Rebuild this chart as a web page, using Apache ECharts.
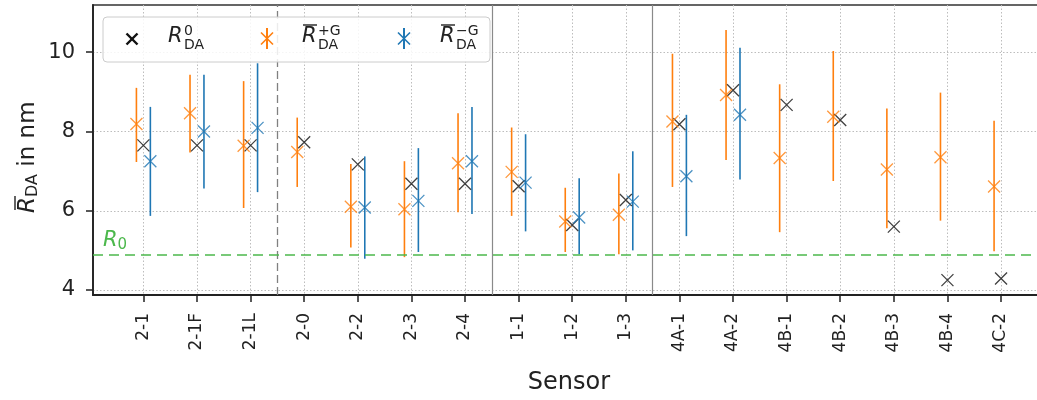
<!DOCTYPE html>
<html>
<head>
<meta charset="utf-8">
<script src="https://cdn.jsdelivr.net/npm/echarts@6/dist/echarts.min.js"></script>
<style>
  html, body { margin: 0; padding: 0; background: #fff; overflow: hidden; width: 1037px; height: 400px; }
  /* the plot frame runs past the right edge of the window */
  #chart { width: 1070px; height: 400px; }
</style>
</head>
<body>
<div id="chart"></div>
<script>
// Sensors along the x axis
const categories = ['2-1', '2-1F', '2-1L', '2-0', '2-2', '2-3', '2-4', '1-1', '1-2', '1-3',
                    '4A-1', '4A-2', '4B-1', '4B-2', '4B-3', '4B-4', '4C-2'];

// R_DA^0 per sensor (nm)
const r0Values = [7.65, 7.65, 7.65, 7.73, 7.17, 6.68, 6.68, 6.62, 5.64, 6.27,
                  8.18, 9.04, 8.67, 8.29, 5.60, 4.25, 4.29];

// mean R_DA with +G: mean, lower and upper end of the error bar
const plusMean = [8.19, 8.46, 7.64, 7.48, 6.10, 6.04, 7.20, 6.98, 5.73, 5.90,
                  8.25, 8.92, 7.33, 8.37, 7.04, 7.35, 6.61];
const plusLow  = [7.23, 7.47, 6.07, 6.60, 5.07, 4.83, 5.96, 5.87, 4.96, 4.90,
                  6.60, 7.28, 5.46, 6.75, 5.56, 5.75, 4.98];
const plusHigh = [9.10, 9.43, 9.27, 8.35, 7.18, 7.25, 8.46, 8.10, 6.58, 6.94,
                  9.96, 10.56, 9.19, 10.03, 8.58, 8.98, 8.27];

// mean R_DA with -G (not measured for every sensor)
const minusMean = [7.25, 8.00, 8.09, null, 6.08, 6.25, 7.25, 6.71, 5.83, 6.23,
                   6.87, 8.42, null, null, null, null, null];
const minusLow  = [5.87, 6.56, 6.47, null, 4.79, 4.96, 5.92, 5.48, 4.90, 5.00,
                   5.36, 6.79, null, null, null, null, null];
const minusHigh = [8.62, 9.43, 9.72, null, 7.37, 7.58, 8.62, 7.93, 6.82, 7.50,
                   8.42, 10.11, null, null, null, null, null];

// reference radius R_0 (nm)
const rZero = 4.89;

// group boundaries between sensor families
const dashedBoundaries = [2.5];
const solidBoundaries = [6.5, 9.5];

// y tick values
const yTicks = [4, 6, 8, 10];

const FONT = 'DejaVu Sans';
const ORANGE = '#ff7f0e';
const BLUE = '#1f77b4';
const GREEN = '#4cb84c';
const SHIFT = 0.13; // horizontal offset of the +G / -G points
const X_PATH = 'path://M0,0L10,10M10,0L0,10';

const tickIdx = categories.map((c, i) => i);

function points(xs, ys, dx) {
  const out = [];
  xs.forEach((x, i) => { if (ys[i] != null) out.push([i + dx, ys[i]]); });
  return out;
}
function bars(lo, hi, dx) {
  const out = [];
  lo.forEach((l, i) => { if (l != null) out.push([i + dx, l, hi[i]]); });
  return out;
}
function errorSeries(data, color) {
  return {
    type: 'custom',
    silent: true,
    data: data,
    encode: { x: 0, y: [1, 2] },
    renderItem: function (params, api) {
      const a = api.coord([api.value(0), api.value(1)]);
      const b = api.coord([api.value(0), api.value(2)]);
      return {
        type: 'line',
        shape: { x1: a[0], y1: a[1], x2: b[0], y2: b[1] },
        style: { stroke: color, lineWidth: 1.6 }
      };
    }
  };
}
function markerSeries(data, color, width) {
  return {
    type: 'scatter',
    silent: true,
    data: data,
    symbol: X_PATH,
    symbolSize: 12,
    itemStyle: { color: 'transparent', borderColor: color, borderWidth: width }
  };
}

const markLines = [];
dashedBoundaries.forEach(v => markLines.push({ xAxis: v, lineStyle: { color: '#808080', type: [8, 4], width: 1.3 } }));
solidBoundaries.forEach(v => markLines.push({ xAxis: v, lineStyle: { color: '#8a8a8a', type: 'solid', width: 1.2 } }));
markLines.push({ yAxis: rZero, lineStyle: { color: GREEN, type: [10, 6], width: 1.6 } });

const blackSeries = markerSeries(points(categories, r0Values, 0), '#111', 1.3);
blackSeries.markLine = {
  silent: true,
  symbol: 'none',
  label: { show: false },
  animation: false,
  data: markLines
};

// legend drawn as graphics (math labels with over-bars and stacked indices)
function xMark(cx, cy, s, color, w) {
  return [
    { type: 'line', shape: { x1: cx - s, y1: cy - s, x2: cx + s, y2: cy + s }, style: { stroke: color, lineWidth: w } },
    { type: 'line', shape: { x1: cx - s, y1: cy + s, x2: cx + s, y2: cy - s }, style: { stroke: color, lineWidth: w } }
  ];
}
function txt(x, y, s, size, italic, color) {
  return {
    type: 'text', x: x, y: y,
    style: { text: s, fontFamily: FONT, fontSize: size, fontStyle: italic ? 'italic' : 'normal',
             fill: color || '#222', align: 'left', verticalAlign: 'middle' }
  };
}
function legendEntry(mx, tx, color, sup, bar) {
  const els = [];
  if (bar) {
    els.push({ type: 'line', shape: { x1: mx, y1: 28, x2: mx, y2: 49 }, style: { stroke: color, lineWidth: 2 } });
    els.push(...xMark(mx, 38.5, 6, color, 1.6));
    els.push({ type: 'line', shape: { x1: tx + 1, y1: 25, x2: tx + 15, y2: 25 }, style: { stroke: '#222', lineWidth: 1.4 } });
  } else {
    els.push(...xMark(mx, 39, 5.5, color, 2.4));
  }
  els.push(txt(tx, 37, 'R', 21, true));
  els.push(txt(tx + 16, 31, sup, 14, false));
  els.push(txt(tx + 16, 45, 'DA', 14, false));
  return els;
}

const graphics = [
  { type: 'rect', shape: { x: 103, y: 17, width: 387, height: 45, r: 4 },
    style: { fill: 'rgba(255,255,255,0.85)', stroke: '#cccccc', lineWidth: 1 }, z: 100 },
  ...legendEntry(132, 168, '#111', '0', false).map(e => Object.assign(e, { z: 101 })),
  ...legendEntry(267, 302, ORANGE, '+G', true).map(e => Object.assign(e, { z: 101 })),
  ...legendEntry(404, 440, BLUE, '\u2212G', true).map(e => Object.assign(e, { z: 101 })),
  // y axis title, rotated
  {
    type: 'group', x: 28, y: 213, rotation: Math.PI / 2,
    children: [
      { type: 'line', shape: { x1: 3, y1: -13, x2: 17, y2: -13 }, style: { stroke: '#222', lineWidth: 1.4 } },
      {
        type: 'text', x: 0, y: 0,
        style: {
          text: '{r|R}{s|DA}{n| in nm}', align: 'left', verticalAlign: 'middle', fill: '#222',
          rich: {
            r: { fontFamily: FONT, fontSize: 23, fontStyle: 'italic', fill: '#222' },
            s: { fontFamily: FONT, fontSize: 16, fill: '#222', padding: [10, 0, 0, 0] },
            n: { fontFamily: FONT, fontSize: 23, fill: '#222' }
          }
        }
      }
    ]
  },
  // R_0 label beside the reference line
  {
    type: 'text', x: 103, y: 241,
    style: {
      text: '{r|R}{s|0}', align: 'left', verticalAlign: 'middle',
      rich: {
        r: { fontFamily: FONT, fontSize: 21, fontStyle: 'italic', fill: GREEN },
        s: { fontFamily: FONT, fontSize: 15, fill: GREEN, padding: [9, 0, 0, 0] }
      }
    }
  }
];

const chart = echarts.init(document.getElementById('chart'), null, { renderer: 'canvas', width: 1070, height: 400 });
chart.setOption({
  animation: false,
  backgroundColor: '#fff',
  grid: { left: 93, top: 5, width: 952, height: 292, show: true, borderColor: '#333', borderWidth: 1.5, containLabel: false },
  xAxis: {
    type: 'value', min: -0.94, max: 16.82,
    name: 'Sensor', nameLocation: 'middle', nameGap: 76,
    nameTextStyle: { fontFamily: FONT, fontSize: 24, color: '#222' },
    axisLine: { show: true, onZero: false, lineStyle: { color: '#222', width: 1.8 } },
    axisTick: { show: true, length: 7, customValues: tickIdx, lineStyle: { color: '#222', width: 1.5 } },
    axisLabel: { customValues: tickIdx, rotate: 90, margin: 18, fontFamily: FONT, fontSize: 17, color: '#222',
                 formatter: v => categories[Math.round(v)] },
    splitLine: { show: true, lineStyle: { color: '#bdbdbd', type: [1.5, 2], width: 1 } }
  },
  yAxis: {
    type: 'value', min: 3.875, max: 11.19,
    axisLine: { show: true, onZero: false, lineStyle: { color: '#222', width: 1.8 } },
    axisTick: { show: true, length: 7, customValues: yTicks, lineStyle: { color: '#222', width: 1.5 } },
    axisLabel: { customValues: yTicks, margin: 18, fontFamily: FONT, fontSize: 21, color: '#222' },
    splitLine: { show: true, lineStyle: { color: '#bdbdbd', type: [1.5, 2], width: 1 } }
  },
  series: [
    blackSeries,
    errorSeries(bars(plusLow, plusHigh, -SHIFT), ORANGE),
    markerSeries(points(categories, plusMean, -SHIFT), ORANGE, 1.3),
    errorSeries(bars(minusLow, minusHigh, SHIFT), BLUE),
    markerSeries(points(categories, minusMean, SHIFT), BLUE, 1.3)
  ],
  graphic: graphics
});
</script>
</body>
</html>
